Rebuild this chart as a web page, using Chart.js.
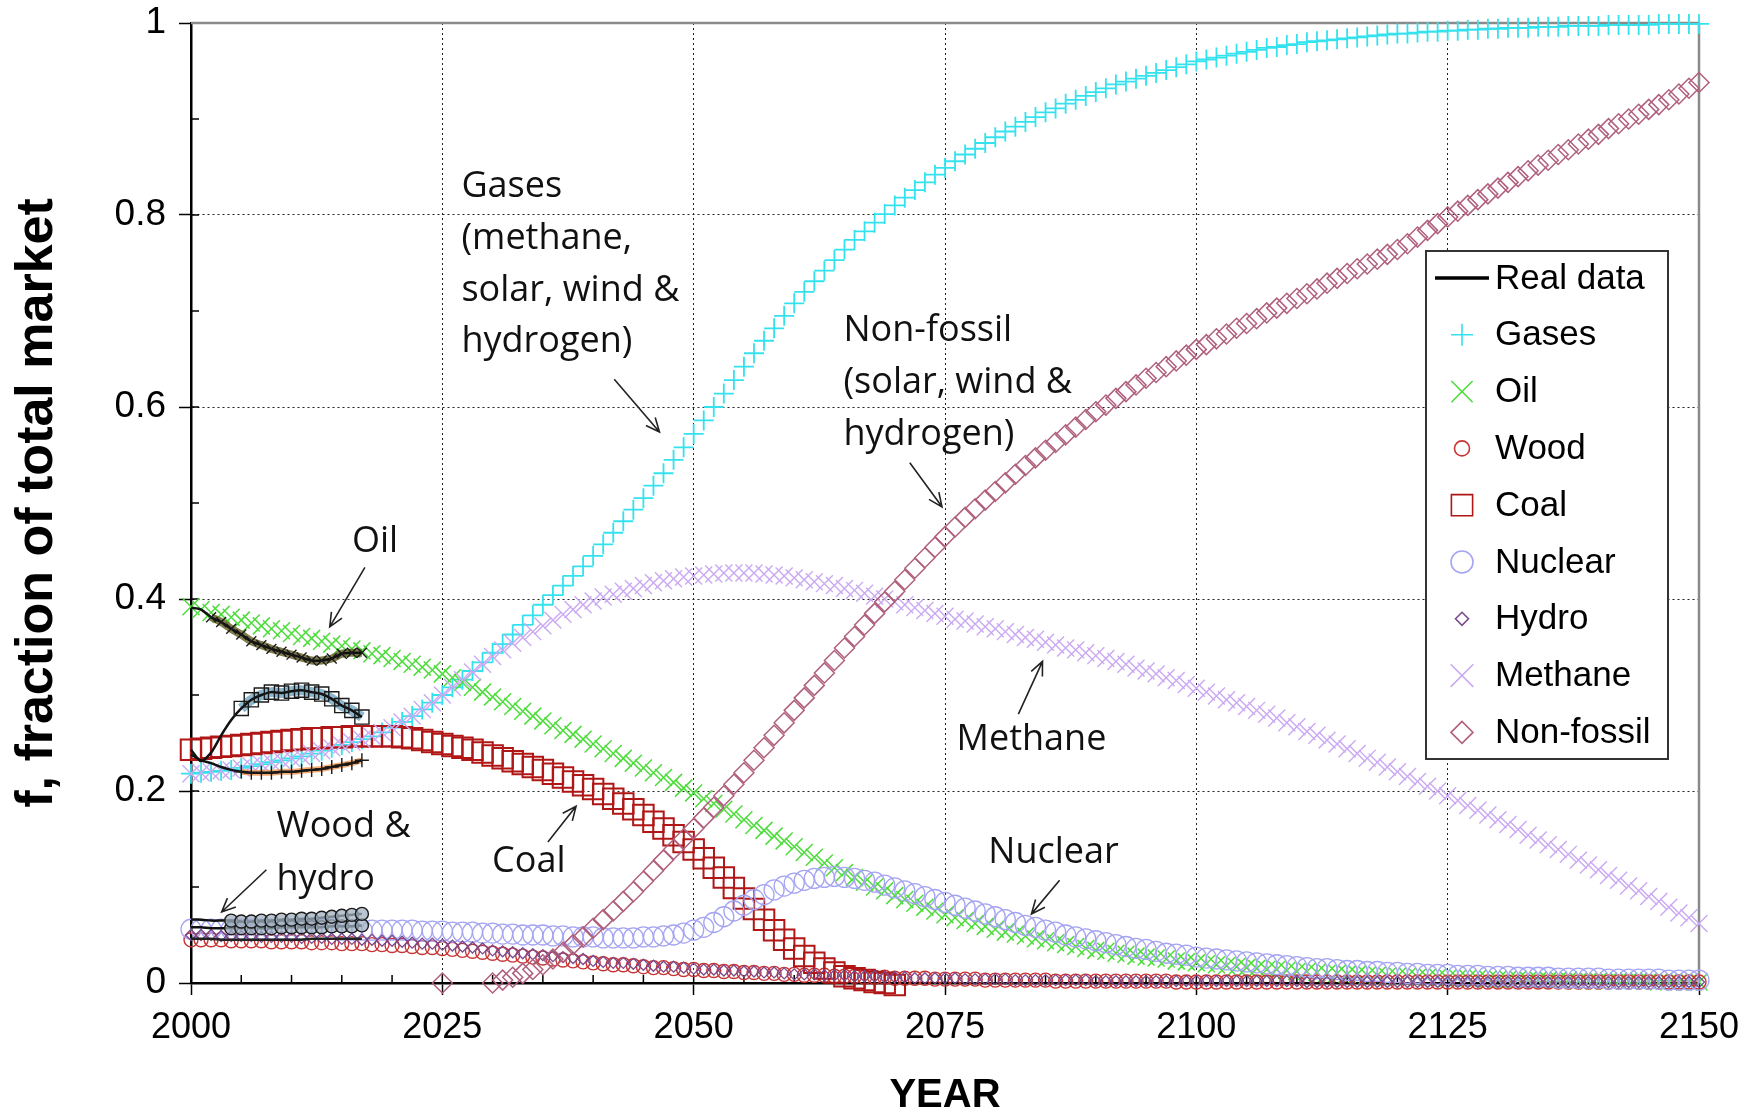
<!DOCTYPE html>
<html><head><meta charset="utf-8">
<script src="https://cdn.jsdelivr.net/npm/chart.js@4.4.1/dist/chart.umd.min.js"></script>
<style>html,body{margin:0;padding:0;background:#fff;}#c{display:block;}</style>
</head><body>
<canvas id="c" width="1758" height="1114"></canvas>
<script>
// ---------- categories / tick labels ----------
const years = [];
for (let y = 2000; y <= 2150; y++) years.push(y);
const xTickLabels = ['2000','2025','2050','2075','2100','2125','2150'];
const yTickLabels = ['0','0.2','0.4','0.6','0.8','1'];

// ---------- model series (yearly, 2000-2150) ----------
const gases = [
0.218,0.219,0.220,0.221,0.222,0.224,0.226,0.228,0.230,0.232,0.234,
0.236,0.239,0.242,0.245,0.248,0.251,0.254,0.257,0.261,0.266,
0.272,0.278,0.285,0.292,0.300,0.308,0.316,0.325,0.334,0.344,
0.353,0.363,0.373,0.383,0.394,0.404,0.414,0.424,0.434,0.445,
0.457,0.469,0.481,0.493,0.505,0.518,0.531,0.545,0.558,0.572,
0.586,0.600,0.614,0.628,0.642,0.656,0.669,0.682,0.695,0.708,
0.720,0.731,0.742,0.753,0.764,0.774,0.783,0.792,0.801,0.810,
0.818,0.826,0.834,0.842,0.849,0.856,0.863,0.869,0.875,0.881,
0.887,0.892,0.897,0.902,0.907,0.911,0.916,0.920,0.924,0.928,
0.932,0.936,0.939,0.942,0.945,0.948,0.951,0.954,0.957,0.960,
0.962,0.964,0.966,0.968,0.970,0.972,0.974,0.975,0.977,0.978,
0.980,0.981,0.982,0.983,0.984,0.985,0.986,0.987,0.988,0.989,
0.989,0.990,0.991,0.991,0.992,0.992,0.993,0.993,0.994,0.994,
0.995,0.995,0.995,0.996,0.996,0.996,0.997,0.997,0.997,0.997,
0.998,0.998,0.998,0.998,0.998,0.999,0.999,0.999,0.999,0.999];

const oil = [
0.392,0.389,0.386,0.384,0.381,0.378,0.375,0.372,0.369,0.367,0.364,
0.361,0.359,0.356,0.353,0.351,0.348,0.346,0.343,0.341,0.338,
0.335,0.332,0.329,0.326,0.322,0.318,0.313,0.308,0.303,0.298,
0.293,0.288,0.283,0.278,0.273,0.268,0.263,0.259,0.254,0.249,
0.244,0.239,0.234,0.229,0.224,0.219,0.214,0.209,0.203,0.198,
0.192,0.187,0.181,0.176,0.170,0.164,0.159,0.153,0.148,0.142,
0.136,0.131,0.125,0.120,0.115,0.110,0.105,0.100,0.096,0.091,
0.087,0.083,0.079,0.075,0.071,0.068,0.065,0.062,0.059,0.056,
0.053,0.051,0.049,0.046,0.044,0.042,0.040,0.038,0.036,0.034,
0.033,0.031,0.030,0.028,0.027,0.026,0.025,0.023,0.022,0.021,
0.020,0.019,0.018,0.017,0.016,0.015,0.014,0.014,0.013,0.012,
0.012,0.011,0.010,0.010,0.009,0.009,0.008,0.008,0.007,0.007,
0.007,0.006,0.006,0.006,0.005,0.005,0.005,0.005,0.004,0.004,
0.004,0.004,0.003,0.003,0.003,0.003,0.003,0.002,0.002,0.002,
0.002,0.002,0.002,0.002,0.002,0.001,0.001,0.001,0.001,0.001];

const wood = [
0.045,0.045,0.045,0.045,0.044,0.044,0.044,0.044,0.043,0.043,0.043,
0.043,0.042,0.042,0.042,0.041,0.041,0.041,0.040,0.040,0.039,
0.039,0.038,0.037,0.037,0.036,0.035,0.034,0.033,0.032,0.031,
0.030,0.029,0.028,0.027,0.026,0.025,0.024,0.023,0.022,0.021,
0.020,0.019,0.019,0.018,0.017,0.016,0.016,0.015,0.014,0.014,
0.013,0.013,0.012,0.012,0.011,0.011,0.010,0.010,0.009,0.009,
0.008,0.008,0.008,0.007,0.007,0.007,0.006,0.006,0.006,0.005,
0.005,0.005,0.005,0.004,0.004,0.004,0.004,0.004,0.003,0.003,
0.003,0.003,0.003,0.003,0.003,0.002,0.002,0.002,0.002,0.002,
0.002,0.002,0.002,0.002,0.002,0.002,0.002,0.001,0.001,0.001,
0.001,0.001,0.001,0.001,0.001,0.001,0.001,0.001,0.001,0.001,
0.001,0.001,0.001,0.001,0.001,0.001,0.001,0.001,0.001,0.001,
0.001,0.001,0.001,0.001,0.001,0.001,0.001,0.001,0.001,0.001,
0.001,0.001,0.001,0.001,0.001,0.001,0.001,0.001,0.001,0.001,
0.001,0.001,0.001,0.001,0.001,0.001,0.001,0.001,0.001,0.001];

const coal = [
0.243,0.244,0.245,0.246,0.247,0.248,0.249,0.250,0.251,0.252,0.253,
0.254,0.255,0.255,0.256,0.256,0.257,0.257,0.257,0.257,0.257,
0.256,0.255,0.253,0.251,0.249,0.247,0.245,0.243,0.240,0.237,
0.234,0.231,0.228,0.225,0.222,0.218,0.214,0.210,0.206,0.202,
0.197,0.192,0.187,0.181,0.175,0.168,0.161,0.154,0.147,0.139,
0.130,0.120,0.110,0.099,0.088,0.077,0.066,0.055,0.045,0.036,
0.028,0.021,0.015,0.011,0.007,0.005,0.003,0.001,0.000,-0.002];

const nuclear = [
0.056,0.056,0.056,0.056,0.056,0.056,0.056,0.056,0.056,0.056,0.056,
0.056,0.056,0.056,0.056,0.055,0.055,0.055,0.055,0.055,0.055,
0.055,0.055,0.054,0.054,0.054,0.053,0.053,0.053,0.052,0.052,
0.051,0.051,0.050,0.050,0.050,0.049,0.049,0.048,0.048,0.048,
0.047,0.047,0.047,0.047,0.048,0.048,0.049,0.050,0.052,0.055,
0.058,0.063,0.069,0.075,0.081,0.087,0.092,0.097,0.101,0.104,
0.107,0.109,0.110,0.111,0.110,0.109,0.107,0.105,0.102,0.099,
0.096,0.093,0.090,0.087,0.084,0.081,0.078,0.075,0.072,0.069,
0.066,0.063,0.060,0.058,0.055,0.053,0.050,0.048,0.046,0.044,
0.042,0.040,0.038,0.036,0.035,0.033,0.031,0.030,0.029,0.027,
0.026,0.025,0.024,0.023,0.022,0.021,0.020,0.019,0.018,0.017,
0.016,0.015,0.015,0.014,0.013,0.013,0.012,0.012,0.011,0.011,
0.010,0.010,0.009,0.009,0.009,0.008,0.008,0.008,0.007,0.007,
0.007,0.006,0.006,0.006,0.006,0.005,0.005,0.005,0.005,0.005,
0.004,0.004,0.004,0.004,0.004,0.004,0.003,0.003,0.003,0.003];

const hydro = [
0.050,0.050,0.050,0.049,0.049,0.049,0.049,0.048,0.048,0.048,0.048,
0.047,0.047,0.047,0.046,0.046,0.046,0.045,0.045,0.044,0.044,
0.043,0.042,0.041,0.041,0.040,0.039,0.038,0.037,0.036,0.034,
0.033,0.032,0.031,0.030,0.029,0.028,0.027,0.026,0.025,0.023,
0.022,0.021,0.021,0.020,0.019,0.018,0.017,0.017,0.016,0.015,
0.014,0.014,0.013,0.013,0.012,0.012,0.011,0.011,0.010,0.009,
0.009,0.009,0.008,0.008,0.008,0.007,0.007,0.007,0.006,0.006,
0.006,0.005,0.005,0.005,0.005,0.005,0.004,0.004,0.004,0.004,
0.004,0.003,0.003,0.003,0.003,0.003,0.003,0.003,0.003,0.002,
0.002,0.002,0.002,0.002,0.002,0.002,0.002,0.002,0.002,0.002,
0.002,0.002,0.002,0.002,0.002,0.002,0.002,0.002,0.002,0.002,
0.001,0.001,0.001,0.001,0.001,0.001,0.001,0.001,0.001,0.001,
0.001,0.001,0.001,0.001,0.001,0.001,0.001,0.001,0.001,0.001,
0.001,0.001,0.001,0.001,0.001,0.001,0.001,0.001,0.001,0.001,
0.001,0.001,0.001,0.001,0.001,0.001,0.001,0.001,0.001,0.001];

const methane = [
0.218,0.219,0.220,0.221,0.222,0.224,0.226,0.228,0.230,0.232,0.234,
0.236,0.239,0.242,0.245,0.248,0.251,0.254,0.257,0.261,0.266,
0.272,0.278,0.285,0.292,0.300,0.308,0.316,0.324,0.332,0.340,
0.347,0.354,0.360,0.366,0.372,0.378,0.384,0.389,0.394,0.398,
0.402,0.405,0.408,0.411,0.414,0.417,0.419,0.421,0.423,0.424,
0.425,0.426,0.427,0.427,0.427,0.427,0.426,0.425,0.424,0.422,
0.420,0.418,0.416,0.414,0.411,0.409,0.406,0.403,0.400,0.397,
0.394,0.391,0.388,0.385,0.382,0.379,0.377,0.374,0.371,0.369,
0.366,0.363,0.360,0.358,0.355,0.352,0.349,0.347,0.344,0.341,
0.338,0.335,0.332,0.328,0.325,0.322,0.318,0.315,0.311,0.307,
0.303,0.299,0.295,0.292,0.288,0.284,0.280,0.276,0.271,0.267,
0.262,0.258,0.253,0.249,0.244,0.239,0.234,0.230,0.225,0.220,
0.215,0.210,0.205,0.200,0.195,0.190,0.185,0.180,0.175,0.170,
0.165,0.160,0.154,0.149,0.144,0.139,0.134,0.128,0.123,0.118,
0.112,0.107,0.101,0.096,0.090,0.085,0.079,0.073,0.068,0.062];

const nonFossil = [
null,null,null,null,null,null,null,null,null,null,
null,null,null,null,null,null,null,null,null,null,
null,null,null,null,null,
0.000,null,null,null,null,
0.000,
0.003,0.006,0.010,0.014,0.019,0.025,0.032,0.040,0.048,0.057,
0.066,0.075,0.085,0.095,0.106,0.117,0.128,0.139,0.150,0.161,
0.172,0.183,0.195,0.207,0.219,0.232,0.245,0.258,0.271,0.284,
0.297,0.310,0.323,0.336,0.349,0.361,0.373,0.385,0.397,0.408,
0.420,0.432,0.443,0.454,0.465,0.475,0.485,0.494,0.503,0.512,
0.521,0.530,0.539,0.547,0.555,0.563,0.571,0.579,0.587,0.595,
0.602,0.609,0.616,0.623,0.630,0.636,0.642,0.648,0.654,0.660,
0.665,0.671,0.676,0.682,0.687,0.692,0.698,0.703,0.708,0.713,
0.718,0.723,0.729,0.734,0.739,0.744,0.749,0.754,0.759,0.764,
0.770,0.777,0.784,0.791,0.798,0.804,0.810,0.816,0.822,0.828,
0.834,0.840,0.846,0.852,0.857,0.863,0.868,0.874,0.879,0.884,
0.890,0.895,0.900,0.905,0.910,0.915,0.920,0.926,0.932,0.938];

// ---------- real data (2000-2017) ----------
const oilReal   = [0.391,0.389,0.381,0.376,0.369,0.363,0.356,0.352,0.348,0.345,0.342,0.339,0.336,0.336,0.338,0.343,0.344,0.344];
const coalReal  = [0.243,0.231,0.240,0.258,0.274,0.286,0.295,0.300,0.303,0.302,0.304,0.305,0.303,0.301,0.296,0.289,0.284,0.277];
const gasReal   = [0.238,0.232,0.229,0.225,0.222,0.220,0.219,0.219,0.219,0.220,0.220,0.221,0.222,0.223,0.225,0.227,0.229,0.232];
const woodHydroRealA = [0.066,0.066,0.065,0.065,0.065,0.064,0.064,0.065,0.065,0.066,0.066,0.067,0.067,0.068,0.069,0.070,0.071,0.072];
const woodHydroRealB = [0.058,0.058,0.057,0.057,0.057,0.057,0.057,0.057,0.057,0.058,0.058,0.058,0.058,0.058,0.059,0.059,0.059,0.060];
const woodHydroRealC = [0.046,0.046,0.046,0.045,0.045,0.045,0.045,0.045,0.045,0.045,0.045,0.045,0.046,0.046,0.046,0.046,0.046,0.046];

// ---------- styles ----------
const C = {
  gases:'#33e2ee', oil:'#4edc3c', wood:'#c83434', coal:'#b01616',
  nuclear:'#a4a4f2', hydro:'#7a4a8c', methane:'#caa9f2', nonFossil:'#b0607e'
};
const fromIndex = (arr, k) => arr.map((v, i) => i < k ? null : v);

function modelSet(label, data, style, color, r, w) {
  return { label, data, showLine:false, pointStyle:style, pointRadius:r,
    pointBorderColor:color, pointBackgroundColor:'rgba(0,0,0,0)', pointBorderWidth:w,
    borderColor:color, backgroundColor:'rgba(0,0,0,0)', clip:false };
}
function realLine(label, data, color, width, tension) {
  return { label, data, showLine:true, borderColor:color, borderWidth:width, pointRadius:0,
    tension, fill:false, clip:false, spanGaps:false };
}
function realMarks(label, data, style, r, startIdx, fillColor) {
  return { label, data, showLine:true, borderColor:'#111', borderWidth:2.5, tension:0.25,
    pointStyle:style, pointRadius:(c) => c.dataIndex < startIdx ? 0 : r,
    pointBorderColor:'#1a1a1a', pointBorderWidth:1.4,
    pointBackgroundColor: fillColor || 'rgba(0,0,0,0)', fill:false, clip:false };
}

const datasets = [
  realMarks('Real oil', oilReal, 'crossRot', 7, 2),
  realMarks('Real coal', coalReal, 'rect', 10, 5),
  realMarks('Real gases', gasReal, 'cross', 7, 5),
  realMarks('Real wood & hydro A', woodHydroRealA, 'circle', 6.5, 4, 'rgba(160,176,192,0.75)'),
  realMarks('Real wood & hydro B', woodHydroRealB, 'circle', 6.5, 4, 'rgba(160,176,192,0.75)'),
  realLine('Real wood line', woodHydroRealC, '#222', 2.5, 0.2),
  realLine('Real oil band', fromIndex(oilReal, 2), 'rgba(105,100,45,0.85)', 8, 0.3),
  realLine('Real coal band', fromIndex(coalReal, 5), 'rgba(120,170,195,0.85)', 10, 0.3),
  realLine('Real gases band', fromIndex(gasReal, 5), 'rgba(240,150,80,0.8)', 6, 0.3),
  modelSet('Non-fossil', nonFossil, 'rectRot', C.nonFossil, 10, 1.5),
  modelSet('Methane', methane, 'crossRot', C.methane, 12, 1.4),
  modelSet('Hydro', hydro, 'rectRot', C.hydro, 5.5, 1.3),
  modelSet('Nuclear', nuclear, 'circle', C.nuclear, 10, 1.3),
  modelSet('Coal', coal, 'rect', C.coal, 14.5, 2),
  modelSet('Wood', wood, 'circle', C.wood, 7, 1.4),
  modelSet('Oil', oil, 'crossRot', C.oil, 12, 1.5),
  modelSet('Gases', gases, 'cross', C.gases, 10, 1.8)
];

const legendItems = [
  {label:'Real data', style:'line', color:'#000', r:0},
  {label:'Gases', style:'cross', color:C.gases, r:11},
  {label:'Oil', style:'crossRot', color:C.oil, r:15},
  {label:'Wood', style:'circle', color:C.wood, r:7.5},
  {label:'Coal', style:'rect', color:C.coal, r:15},
  {label:'Nuclear', style:'circle', color:C.nuclear, r:11},
  {label:'Hydro', style:'rectRot', color:C.hydro, r:6.5},
  {label:'Methane', style:'crossRot', color:C.methane, r:16},
  {label:'Non-fossil', style:'rectRot', color:C.nonFossil, r:11}
];

const annotations = [
  {lines:['Gases','(methane,','solar, wind &','hydrogen)'], at:[2026.9,0.829], align:'left', step:51.6,
   from:[2042.1,0.629], to:[2046.6,0.574]},
  {lines:['Non-fossil','(solar, wind &','hydrogen)'], at:[2064.9,0.679], align:'left', step:51.6,
   from:[2071.5,0.542], to:[2074.7,0.496]},
  {lines:['Oil'], at:[2018.3,0.460], align:'center', step:0, from:[2017.3,0.433], to:[2013.8,0.371]},
  {lines:['Coal'], at:[2033.6,0.126], align:'center', step:0, from:[2035.5,0.147], to:[2038.3,0.184]},
  {lines:['Wood &','hydro'], at:[2008.5,0.1625], align:'left', step:53, from:[2007.5,0.118], to:[2003.05,0.074]},
  {lines:['Methane'], at:[2083.6,0.253], align:'center', step:0, from:[2082.3,0.280], to:[2084.7,0.335]},
  {lines:['Nuclear'], at:[2085.8,0.136], align:'center', step:0, from:[2086.4,0.107], to:[2083.6,0.072]}
];

function drawMarker(ctx, style, x, y, r) {
  ctx.beginPath();
  if (style === 'cross') {
    ctx.moveTo(x - r, y); ctx.lineTo(x + r, y); ctx.moveTo(x, y - r); ctx.lineTo(x, y + r);
  } else if (style === 'crossRot') {
    const d = r * Math.SQRT1_2;
    ctx.moveTo(x - d, y - d); ctx.lineTo(x + d, y + d); ctx.moveTo(x - d, y + d); ctx.lineTo(x + d, y - d);
  } else if (style === 'circle') {
    ctx.arc(x, y, r, 0, Math.PI * 2);
  } else if (style === 'rect') {
    const s = r * Math.SQRT1_2; ctx.rect(x - s, y - s, 2 * s, 2 * s);
  } else if (style === 'rectRot') {
    ctx.moveTo(x - r, y); ctx.lineTo(x, y - r); ctx.lineTo(x + r, y); ctx.lineTo(x, y + r); ctx.closePath();
  }
  ctx.stroke();
}

const decor = {
  id: 'decor',
  beforeDatasetsDraw(chart) {
    const {ctx, chartArea: a, scales: {x, y}} = chart;
    ctx.save();
    ctx.strokeStyle = '#8a8a8a'; ctx.lineWidth = 2.5;
    ctx.beginPath(); ctx.moveTo(a.left, a.top); ctx.lineTo(a.right, a.top); ctx.lineTo(a.right, a.bottom); ctx.stroke();
    ctx.strokeStyle = '#000'; ctx.lineWidth = 1.5;
    ctx.beginPath();
    for (let yr = 2005; yr < 2150; yr += 5) {
      const px = x.getPixelForValue(yr);
      ctx.moveTo(px, a.bottom); ctx.lineTo(px, a.bottom - 8);
    }
    for (let k = 1; k < 10; k++) {
      const py = y.getPixelForValue(k / 10);
      ctx.moveTo(a.left, py); ctx.lineTo(a.left + 8, py);
    }
    ctx.stroke();
    ctx.restore();
  },
  afterDraw(chart) {
    const {ctx, scales: {x, y}} = chart;
    ctx.save();
    ctx.fillStyle = '#111';
    ctx.font = '36px "Open Sans"';
    ctx.textBaseline = 'middle';
    annotations.forEach(an => {
      const px = x.getPixelForValue(an.at[0]);
      const py = y.getPixelForValue(an.at[1]);
      ctx.textAlign = an.align;
      ctx.fillStyle = '#111';
      an.lines.forEach((t, i) => ctx.fillText(t, px, py + i * an.step));
      const x1 = x.getPixelForValue(an.from[0]), y1 = y.getPixelForValue(an.from[1]);
      const x2 = x.getPixelForValue(an.to[0]), y2 = y.getPixelForValue(an.to[1]);
      ctx.strokeStyle = '#222'; ctx.lineWidth = 1.6;
      ctx.beginPath(); ctx.moveTo(x1, y1); ctx.lineTo(x2, y2);
      const ang = Math.atan2(y2 - y1, x2 - x1), L = 15, sp = 0.42;
      ctx.moveTo(x2 - L * Math.cos(ang - sp), y2 - L * Math.sin(ang - sp));
      ctx.lineTo(x2, y2);
      ctx.lineTo(x2 - L * Math.cos(ang + sp), y2 - L * Math.sin(ang + sp));
      ctx.stroke();
    });
    const bx = 1426, by = 251, bw = 242, bh = 508;
    ctx.fillStyle = '#fff'; ctx.fillRect(bx, by, bw, bh);
    ctx.strokeStyle = '#333'; ctx.lineWidth = 2; ctx.strokeRect(bx, by, bw, bh);
    ctx.font = '35px "Liberation Sans", Arial, sans-serif';
    ctx.textAlign = 'left'; ctx.textBaseline = 'middle';
    legendItems.forEach((it, i) => {
      const cy = 278 + i * 56.8;
      if (it.style === 'line') {
        ctx.strokeStyle = '#000'; ctx.lineWidth = 3.5;
        ctx.beginPath(); ctx.moveTo(1435, cy); ctx.lineTo(1489, cy); ctx.stroke();
      } else {
        ctx.strokeStyle = it.color; ctx.lineWidth = 1.6;
        drawMarker(ctx, it.style, 1462, cy, it.r);
      }
      ctx.fillStyle = '#000';
      ctx.fillText(it.label, 1495, cy + 1);
    });
    ctx.restore();
  }
};

new Chart(document.getElementById('c'), {
  type: 'line',
  data: { labels: years, datasets },
  plugins: [decor],
  options: {
    responsive: false, animation: false, devicePixelRatio: 1, events: [],
    layout: { padding: { left: 0, right: 59, top: 23, bottom: 0 } },
    plugins: { legend: { display: false }, tooltip: { enabled: false } },
    scales: {
      x: {
        type: 'linear', min: 2000, max: 2150,
        afterFit: (s) => { s.height = 131; },
        ticks: { stepSize: 25, color: '#000', padding: 11,
          font: { family: '"Liberation Sans", Arial, sans-serif', size: 36 },
          callback: (v, i) => xTickLabels[i], maxRotation: 0, autoSkip: false },
        grid: { color: '#222', lineWidth: 1, tickLength: 12, tickColor: '#000', tickWidth: 1.5, drawTicks: true },
        border: { display: true, color: '#000', width: 2.5, dash: [2, 3] },
        title: { display: true, text: 'YEAR', color: '#000',
          font: { family: '"Liberation Sans", Arial, sans-serif', size: 40, weight: 'bold', lineHeight: 0.9 },
          padding: { top: 0, bottom: 0 } }
      },
      y: {
        type: 'linear', min: 0, max: 1,
        afterFit: (s) => { s.width = 191; s.paddingTop = 0; s.paddingBottom = 0; },
        ticks: { stepSize: 0.2, color: '#000', padding: 13,
          font: { family: '"Liberation Sans", Arial, sans-serif', size: 37 },
          callback: (v, i) => yTickLabels[i] },
        grid: { color: '#222', lineWidth: 1, tickLength: 12, tickColor: '#000', tickWidth: 1.5, drawTicks: true },
        border: { display: true, color: '#000', width: 2.5, dash: [2, 3] },
        title: { display: true, text: 'f, fraction of total market', color: '#000',
          font: { family: '"Liberation Sans", Arial, sans-serif', size: 52, weight: 'bold', lineHeight: 1 },
          padding: { top: 12, bottom: 0 } }
      }
    }
  }
});
</script>
</body></html>
